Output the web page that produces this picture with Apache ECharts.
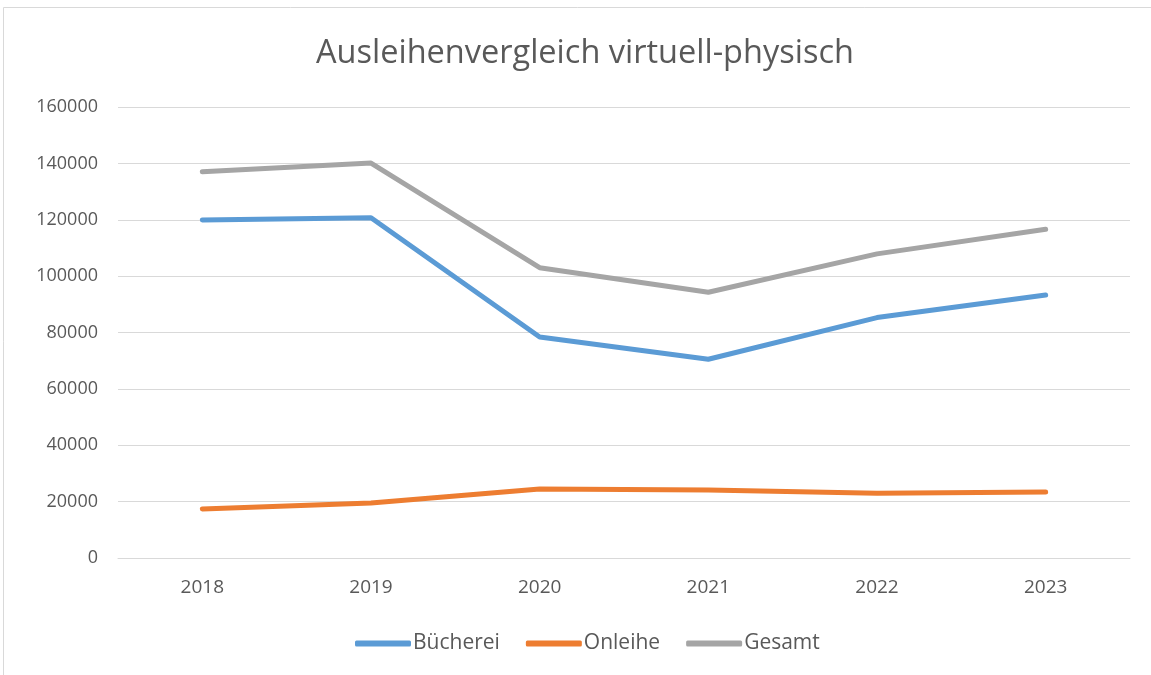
<!DOCTYPE html>
<html><head><meta charset="utf-8">
<script src="https://cdn.jsdelivr.net/npm/echarts@6/dist/echarts.min.js"></script>
<style>html,body{margin:0;padding:0;background:#fff}#c{width:1151px;height:675px}</style>
</head><body><div id="c"></div>
<script>
const categories = ['2018','2019','2020','2021','2022','2023'];
const buecherei = [119900, 120700, 78400, 70500, 85300, 93300];
const onleihe = [17400, 19500, 24500, 24100, 23000, 23400];
const gesamt = [137000, 140100, 103000, 94300, 107900, 116600];
const seriesNames = ['Bücherei','Onleihe','Gesamt'];
const colors = ['#5B9BD5','#ED7D31','#A5A5A5'];
const font = '"Open Sans", "Liberation Sans", sans-serif';
const chart = echarts.init(document.getElementById('c'));
const data = [buecherei, onleihe, gesamt];
chart.setOption({
  animation:false,
  color: colors,
  graphic:[{type:'rect',shape:{x:3.5,y:7.5,width:1160,height:680},style:{fill:'none',stroke:'#D9D9D9',lineWidth:1}}],
  title:{text:'Ausleihenvergleich virtuell-physisch',left:311,top:32,textStyle:{fontFamily:font,fontSize:32.5,fontWeight:'normal',color:'#595959'}},
  legend:{bottom:16,left:350,itemWidth:56,itemHeight:6,itemGap:26,icon:'roundRect',
    textStyle:{fontFamily:font,fontSize:21,color:'#595959',padding:[0,0,0,-3]},data:seriesNames},
  grid:{left:118,right:21,top:107,bottom:117},
  xAxis:{type:'category',data:categories,boundaryGap:true,
    axisLine:{lineStyle:{color:'#D9D9D9',width:1}},axisTick:{show:false},
    axisLabel:{fontFamily:font,fontSize:19,color:'#595959',margin:20}},
  yAxis:{type:'value',min:0,max:160000,interval:20000,
    axisLine:{show:false},axisTick:{show:false},
    splitLine:{lineStyle:{color:'#D9D9D9',width:1}},
    axisLabel:{fontFamily:font,fontSize:18,color:'#595959',margin:20,formatter:v=>String(v)}},
  series: seriesNames.map((n,i)=>({name:n,type:'line',data:data[i],symbol:'none',
    lineStyle:{width:5,cap:'round',join:'round',color:colors[i]}}))
});
</script></body></html>
